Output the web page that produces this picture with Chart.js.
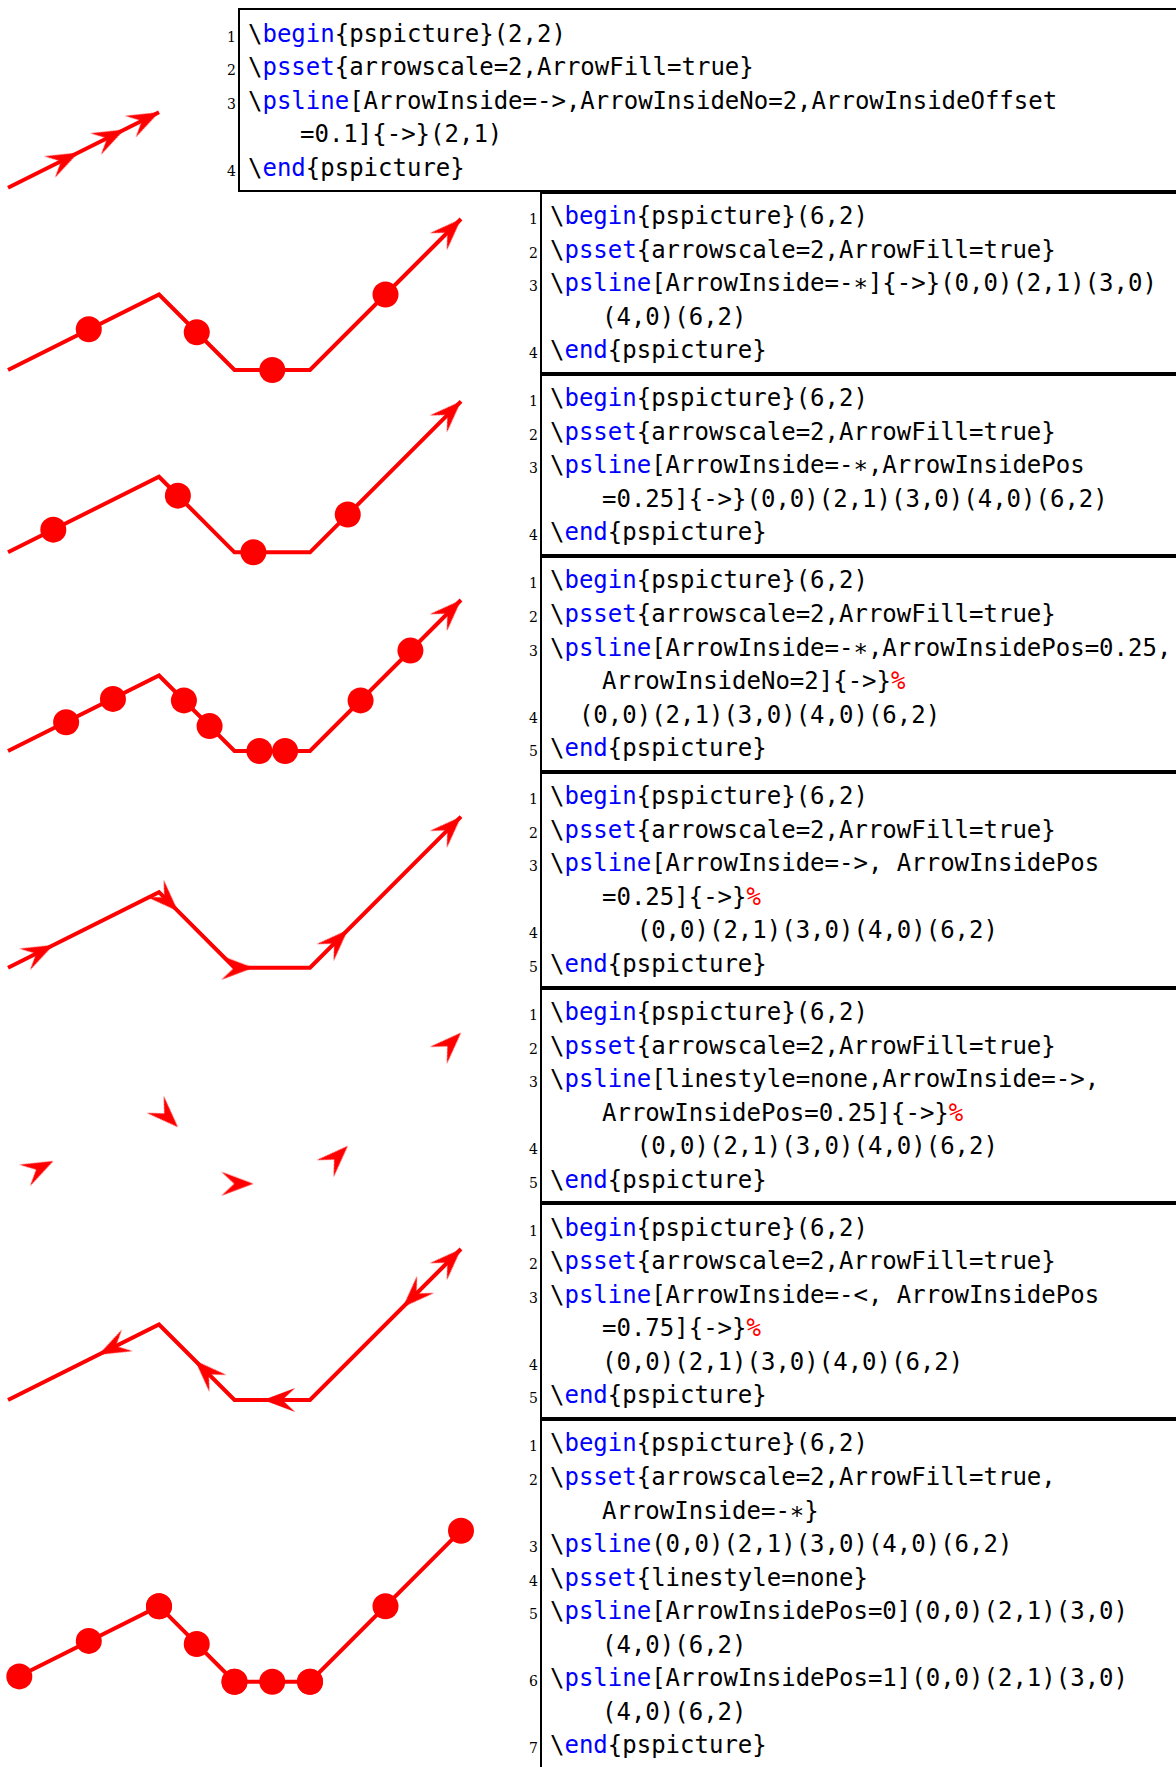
<!DOCTYPE html>
<html><head><meta charset="utf-8">
<script src="https://cdn.jsdelivr.net/npm/chart.js@4/dist/chart.umd.min.js"></script>
<style>
html,body{margin:0;padding:0;background:#fff;}
body{width:1176px;height:1767px;position:relative;overflow:hidden;}
.box{position:absolute;box-sizing:border-box;border:2.5px solid #000;border-right:none;padding-top:6.4px;width:960px;}
.ln{height:33.55px;line-height:33.55px;white-space:pre;font-family:"DejaVu Sans Mono",monospace;font-size:24px;color:#000;padding-left:8.5px;}
.cont{padding-left:60.5px;}
.ind{margin-left:52px;}
.num{display:inline-block;width:20px;margin-left:-32px;margin-right:12px;text-align:right;font-family:"DejaVu Serif",serif;font-size:14px;line-height:14px;}
.kw{color:#0000ff;}
.pc{color:#ff0000;}
canvas{position:absolute;}
</style></head>
<body>

<div class="box" style="left:237.5px;top:7.8px;height:183.9px;padding-top:7.9px">
<div class="ln"><span class="num">1</span>\<span class="kw">begin</span>{pspicture}(2,2)</div>
<div class="ln"><span class="num">2</span>\<span class="kw">psset</span>{arrowscale=2,ArrowFill=true}</div>
<div class="ln"><span class="num">3</span>\<span class="kw">psline</span>[ArrowInside=-&gt;,ArrowInsideNo=2,ArrowInsideOffset</div>
<div class="ln cont">=0.1]{-&gt;}(2,1)</div>
<div class="ln"><span class="num">4</span>\<span class="kw">end</span>{pspicture}</div>
</div>

<div class="box" style="left:539.5px;top:191.7px;height:182.2px">
<div class="ln"><span class="num">1</span>\<span class="kw">begin</span>{pspicture}(6,2)</div>
<div class="ln"><span class="num">2</span>\<span class="kw">psset</span>{arrowscale=2,ArrowFill=true}</div>
<div class="ln"><span class="num">3</span>\<span class="kw">psline</span>[ArrowInside=-∗]{-&gt;}(0,0)(2,1)(3,0)</div>
<div class="ln cont">(4,0)(6,2)</div>
<div class="ln"><span class="num">4</span>\<span class="kw">end</span>{pspicture}</div>
</div>

<div class="box" style="left:539.5px;top:373.9px;height:182.2px">
<div class="ln"><span class="num">1</span>\<span class="kw">begin</span>{pspicture}(6,2)</div>
<div class="ln"><span class="num">2</span>\<span class="kw">psset</span>{arrowscale=2,ArrowFill=true}</div>
<div class="ln"><span class="num">3</span>\<span class="kw">psline</span>[ArrowInside=-∗,ArrowInsidePos</div>
<div class="ln cont">=0.25]{-&gt;}(0,0)(2,1)(3,0)(4,0)(6,2)</div>
<div class="ln"><span class="num">4</span>\<span class="kw">end</span>{pspicture}</div>
</div>

<div class="box" style="left:539.5px;top:556.1px;height:215.75px">
<div class="ln"><span class="num">1</span>\<span class="kw">begin</span>{pspicture}(6,2)</div>
<div class="ln"><span class="num">2</span>\<span class="kw">psset</span>{arrowscale=2,ArrowFill=true}</div>
<div class="ln"><span class="num">3</span>\<span class="kw">psline</span>[ArrowInside=-∗,ArrowInsidePos=0.25,</div>
<div class="ln cont">ArrowInsideNo=2]{-&gt;}<span class="pc">%</span></div>
<div class="ln"><span class="num">4</span>  (0,0)(2,1)(3,0)(4,0)(6,2)</div>
<div class="ln"><span class="num">5</span>\<span class="kw">end</span>{pspicture}</div>
</div>

<div class="box" style="left:539.5px;top:771.85px;height:215.75px">
<div class="ln"><span class="num">1</span>\<span class="kw">begin</span>{pspicture}(6,2)</div>
<div class="ln"><span class="num">2</span>\<span class="kw">psset</span>{arrowscale=2,ArrowFill=true}</div>
<div class="ln"><span class="num">3</span>\<span class="kw">psline</span>[ArrowInside=-&gt;, ArrowInsidePos</div>
<div class="ln cont">=0.25]{-&gt;}<span class="pc">%</span></div>
<div class="ln"><span class="num">4</span>      (0,0)(2,1)(3,0)(4,0)(6,2)</div>
<div class="ln"><span class="num">5</span>\<span class="kw">end</span>{pspicture}</div>
</div>

<div class="box" style="left:539.5px;top:987.6px;height:215.75px">
<div class="ln"><span class="num">1</span>\<span class="kw">begin</span>{pspicture}(6,2)</div>
<div class="ln"><span class="num">2</span>\<span class="kw">psset</span>{arrowscale=2,ArrowFill=true}</div>
<div class="ln"><span class="num">3</span>\<span class="kw">psline</span>[linestyle=none,ArrowInside=-&gt;,</div>
<div class="ln cont">ArrowInsidePos=0.25]{-&gt;}<span class="pc">%</span></div>
<div class="ln"><span class="num">4</span>      (0,0)(2,1)(3,0)(4,0)(6,2)</div>
<div class="ln"><span class="num">5</span>\<span class="kw">end</span>{pspicture}</div>
</div>

<div class="box" style="left:539.5px;top:1203.35px;height:215.75px">
<div class="ln"><span class="num">1</span>\<span class="kw">begin</span>{pspicture}(6,2)</div>
<div class="ln"><span class="num">2</span>\<span class="kw">psset</span>{arrowscale=2,ArrowFill=true}</div>
<div class="ln"><span class="num">3</span>\<span class="kw">psline</span>[ArrowInside=-&lt;, ArrowInsidePos</div>
<div class="ln cont">=0.75]{-&gt;}<span class="pc">%</span></div>
<div class="ln"><span class="num">4</span><span class="ind">(0,0)(2,1)(3,0)(4,0)(6,2)</span></div>
<div class="ln"><span class="num">5</span>\<span class="kw">end</span>{pspicture}</div>
</div>

<div class="box" style="left:539.5px;top:1419.1px;height:400px">
<div class="ln"><span class="num">1</span>\<span class="kw">begin</span>{pspicture}(6,2)</div>
<div class="ln"><span class="num">2</span>\<span class="kw">psset</span>{arrowscale=2,ArrowFill=true,</div>
<div class="ln cont">ArrowInside=-∗}</div>
<div class="ln"><span class="num">3</span>\<span class="kw">psline</span>(0,0)(2,1)(3,0)(4,0)(6,2)</div>
<div class="ln"><span class="num">4</span>\<span class="kw">psset</span>{linestyle=none}</div>
<div class="ln"><span class="num">5</span>\<span class="kw">psline</span>[ArrowInsidePos=0](0,0)(2,1)(3,0)</div>
<div class="ln cont">(4,0)(6,2)</div>
<div class="ln"><span class="num">6</span>\<span class="kw">psline</span>[ArrowInsidePos=1](0,0)(2,1)(3,0)</div>
<div class="ln cont">(4,0)(6,2)</div>
<div class="ln"><span class="num">7</span>\<span class="kw">end</span>{pspicture}</div>
</div>

<script>
// ---- data (pspicture units) ----
const pathX = [0, 2, 3, 4, 6];
const pathY = [0, 1, 0, 0, 2];
const shortPathX = [0, 2];
const shortPathY = [0, 1];
// arrows: [tipX, tipY, dirX, dirY]
const arrowsTop = [[0.93, 0.465, 2, 1], [1.54, 0.77, 2, 1], [2, 1, 2, 1]];
const endArrow = [[6, 2, 1, 1]];
const arrowsQuarter = [[0.6, 0.3, 2, 1], [2.25, 0.75, 1, -1], [3.25, 0, 1, 0], [4.5, 0.5, 1, 1]];
const arrowsBack = [[1.2, 0.6, -2, -1], [2.48, 0.52, -1, 1], [3.38, 0, -1, 0], [5.23, 1.23, -1, -1]];
// dots: [x, y]
const dotsMid = [[1.07, 0.54], [2.5, 0.5], [3.5, 0], [5, 1]];
const dotsQuarter = [[0.6, 0.3], [2.25, 0.75], [3.25, 0], [4.5, 0.5]];
const dotsThirds = [[0.77, 0.38], [1.39, 0.69], [2.33, 0.67], [2.67, 0.33], [3.33, 0], [3.67, 0], [4.67, 0.67], [5.33, 1.33]];
const dotsPos0 = [[0.15, 0.07], [2, 1], [3, 0], [4, 0]];
const dotsPos1 = [[2, 1], [3, 0], [4, 0], [6, 2]];

// ---- layout ----
const UNIT = 75.5, X0 = 8;
const RED = '#ff0000';

function arrowImage() {
  const L = 32, W = 12, pad = 2;
  const c = document.createElement('canvas');
  c.width = 2 * (L + pad); c.height = 2 * (W + pad);
  const g = c.getContext('2d');
  const cx = c.width / 2, cy = c.height / 2;
  g.fillStyle = RED;
  g.beginPath();
  g.moveTo(cx, cy);
  g.lineTo(cx - L, cy - W);
  g.lineTo(cx - 0.6 * L, cy);
  g.lineTo(cx - L, cy + W);
  g.closePath();
  g.fill();
  return c;
}
const ARROW = arrowImage();

function lineDs(xs, ys) {
  return {data: xs.map((x, i) => ({x, y: ys[i]})), showLine: true, borderColor: RED, borderWidth: 4,
    pointRadius: 0, borderJoinStyle: 'miter', borderCapStyle: 'butt', tension: 0, order: 3, clip: false};
}
function dotDs(...lists) {
  const pts = [];
  lists.forEach(l => l.forEach(([x, y]) => pts.push({x, y})));
  return {data: pts, showLine: false, pointStyle: 'circle', pointRadius: 13, pointBackgroundColor: RED,
    pointBorderWidth: 0, pointBorderColor: RED, order: 1, clip: false};
}
function arrowDs(...lists) {
  const pts = [];
  lists.forEach(l => l.forEach(([x, y, dx, dy]) => pts.push({x, y, dx, dy})));
  return {data: pts, showLine: false, pointStyle: ARROW, pointRadius: 2,
    pointRotation: (c) => (c.raw ? -Math.atan2(c.raw.dy, c.raw.dx) * 180 / Math.PI : 0), order: 1, clip: false};
}

function panel(base, width, datasets) {
  const H = 230;
  const c = document.createElement('canvas');
  c.width = width; c.height = H;
  const top = Math.round(base - 2.6 * UNIT);
  c.style.left = '0px'; c.style.top = top + 'px';
  document.body.appendChild(c);
  const xmin = -X0 / UNIT;
  const ymax = (base - top) / UNIT;
  new Chart(c, {
    type: 'scatter',
    data: {datasets},
    options: {
      responsive: false, animation: false, devicePixelRatio: 1, events: [],
      layout: {padding: 0, autoPadding: false},
      plugins: {legend: {display: false}, tooltip: {enabled: false}},
      scales: {
        x: {type: 'linear', display: false, bounds: 'data', min: xmin, max: xmin + width / UNIT},
        y: {type: 'linear', display: false, bounds: 'data', min: ymax - H / UNIT, max: ymax}
      }
    }
  });
}

panel(187.8, 230, [lineDs(shortPathX, shortPathY), arrowDs(arrowsTop)]);
panel(370, 500, [lineDs(pathX, pathY), dotDs(dotsMid), arrowDs(endArrow)]);
panel(552.3, 500, [lineDs(pathX, pathY), dotDs(dotsQuarter), arrowDs(endArrow)]);
panel(751, 500, [lineDs(pathX, pathY), dotDs(dotsThirds), arrowDs(endArrow)]);
panel(967.7, 500, [lineDs(pathX, pathY), arrowDs(arrowsQuarter, endArrow)]);
panel(1183.7, 500, [arrowDs(arrowsQuarter, endArrow)]);
panel(1400, 500, [lineDs(pathX, pathY), arrowDs(arrowsBack, endArrow)]);
panel(1681.7, 500, [lineDs(pathX, pathY), dotDs(dotsPos0, dotsMid, dotsPos1)]);
</script>
</body></html>
